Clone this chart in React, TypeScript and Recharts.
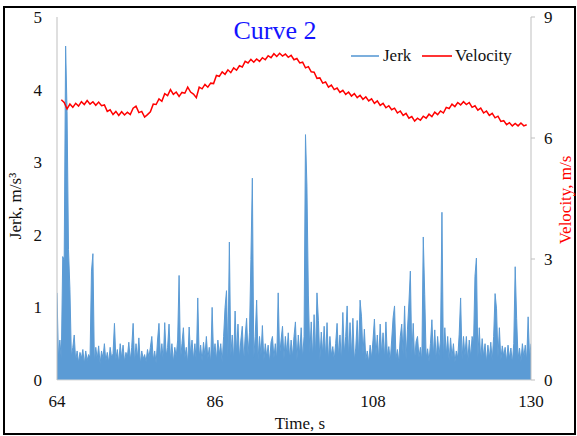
import React from 'react';
import { ComposedChart, Line, Area, XAxis, YAxis, Legend } from 'recharts';

const FONT = '"Liberation Serif", "Times New Roman", Times, serif';

// Time axis ticks (s)
const timeTicks = [64, 86, 108, 130];
const jerkTicks = [0, 1, 2, 3, 4, 5];
const velocityTicks = [0, 3, 6, 9];

// Jerk samples (m/s^3), every 0.2 s starting at 64 s
const jerkStart = 64;
const jerkStep = 0.2;
const jerkValues = [
  1.2, 0.3, 0.55, 0.28, 1.7, 1.65, 4.6, 3.7, 1.8, 1.25, 0.32, 0.45, 0.62, 0.26, 0.4, 0.24, 0.38, 0.3, 0.42, 0.22,
  0.4, 0.27, 0.35, 0.31, 1.5, 1.74, 0.25, 0.45, 0.29, 0.47, 0.22, 0.4, 0.3, 0.5, 0.26, 0.38, 0.24, 0.45, 0.31, 0.36,
  0.78, 0.28, 0.42, 0.23, 0.5, 0.3, 0.48, 0.25, 0.38, 0.32, 0.52, 0.27, 0.45, 0.78, 0.24, 0.5, 0.3, 0.58, 0.22, 0.4,
  0.29, 0.35, 0.25, 0.42, 0.31, 0.45, 0.6, 0.27, 0.4, 0.23, 0.55, 0.78, 0.3, 0.5, 0.26, 0.79, 0.33, 0.45, 0.77, 0.28,
  0.5, 0.24, 0.45, 0.32, 0.55, 1.44, 0.27, 0.5, 0.72, 0.3, 0.45, 0.22, 0.73, 0.34, 0.55, 0.28, 0.5, 0.25, 1.13, 0.31,
  0.48, 0.26, 0.52, 0.33, 0.6, 0.29, 0.45, 0.23, 1.0, 0.32, 0.5, 0.27, 0.55, 0.35, 0.5, 0.24, 0.6, 1.0, 1.23, 0.3,
  1.9, 0.33, 0.62, 0.27, 0.95, 0.36, 0.77, 0.3, 0.55, 0.74, 0.25, 0.6, 0.85, 0.34, 0.65, 1.66, 2.78, 0.31, 0.6, 1.1,
  0.28, 0.6, 0.34, 0.75, 0.26, 0.5, 0.32, 0.48, 0.24, 0.52, 0.6, 0.3, 0.5, 0.27, 1.2, 0.33, 0.55, 0.74, 0.29, 0.6,
  0.35, 0.65, 0.28, 0.55, 0.32, 0.6, 0.8, 0.26, 0.62, 0.34, 0.72, 0.3, 0.6, 3.38, 2.67, 1.17, 0.36, 0.8, 0.29, 0.9,
  0.33, 1.2, 0.82, 0.27, 0.66, 0.35, 0.74, 0.3, 0.79, 0.26, 0.6, 0.34, 0.46, 0.28, 0.5, 0.78, 0.32, 0.62, 0.25, 0.93,
  0.36, 0.6, 1.02, 0.3, 0.79, 0.33, 0.85, 0.27, 0.44, 0.82, 0.31, 1.1, 0.87, 0.35, 0.7, 0.28, 0.4, 0.24, 0.48, 0.3,
  0.55, 0.84, 0.33, 0.62, 0.27, 0.77, 0.35, 0.65, 0.29, 0.8, 0.32, 0.46, 0.26, 0.55, 0.86, 1.02, 0.3, 0.42, 0.24, 0.6,
  0.77, 0.34, 1.02, 0.28, 0.7, 1.06, 1.5, 0.33, 0.78, 0.27, 0.53, 0.6, 0.31, 0.45, 0.26, 1.97, 1.18, 0.3, 0.43, 0.25,
  0.5, 0.83, 0.32, 0.69, 0.27, 0.6, 0.33, 0.55, 2.31, 0.29, 0.72, 0.34, 0.6, 0.26, 0.58, 0.31, 0.5, 0.24, 0.4, 0.3,
  0.63, 1.13, 0.28, 0.6, 0.33, 0.6, 0.25, 0.55, 0.31, 0.6, 0.5, 1.43, 1.68, 0.3, 0.72, 0.27, 0.57, 0.32, 0.5, 0.24,
  0.48, 0.3, 0.52, 0.26, 0.6, 1.19, 0.98, 0.31, 0.72, 0.27, 0.47, 0.33, 0.45, 0.25, 0.48, 0.3, 0.44, 0.23, 0.5, 1.56,
  0.85, 0.29, 0.44, 0.25, 0.5, 0.31, 0.48, 0.26, 0.87, 0.3, 0.5,
];

// Velocity samples (m/s), every 0.4 s starting at 64.6 s
const velocityStart = 64.6;
const velocityStep = 0.4;
const velocityValues = [
  6.95, 6.88, 6.72, 6.84, 6.76, 6.86, 6.79, 6.9, 6.83, 6.93, 6.84, 6.9, 6.81, 6.89, 6.8, 6.82, 6.66, 6.7, 6.58, 6.66,
  6.56, 6.65, 6.57, 6.64, 6.58, 6.74, 6.79, 6.63, 6.66, 6.52, 6.58, 6.65, 6.84, 6.83, 6.97, 6.91, 7.1, 7.05, 7.2, 7.08,
  7.14, 7.03, 7.13, 7.11, 7.26, 7.14, 7.09, 7.0, 7.26, 7.22, 7.33, 7.26, 7.36, 7.35, 7.55, 7.53, 7.64, 7.58, 7.69, 7.62,
  7.74, 7.68, 7.79, 7.76, 7.9, 7.86, 7.95, 7.88, 7.96, 7.9, 7.99, 7.94, 8.04, 7.99, 8.09, 8.02, 8.1, 8.03, 8.08, 8.0,
  8.05, 7.94, 7.97, 7.86, 7.88, 7.74, 7.77, 7.64, 7.63, 7.48, 7.49, 7.36, 7.39, 7.26, 7.31, 7.2, 7.24, 7.13, 7.18, 7.08,
  7.14, 7.04, 7.1, 7.0, 7.06, 6.96, 7.02, 6.92, 6.97, 6.86, 6.92, 6.81, 6.86, 6.75, 6.8, 6.7, 6.74, 6.62, 6.67, 6.56,
  6.61, 6.49, 6.53, 6.42, 6.49, 6.44, 6.54, 6.49, 6.59, 6.53, 6.64, 6.58, 6.67, 6.62, 6.76, 6.73, 6.84, 6.78, 6.88, 6.82,
  6.9, 6.83, 6.88, 6.76, 6.8, 6.69, 6.74, 6.62, 6.67, 6.56, 6.61, 6.5, 6.54, 6.41, 6.43, 6.33, 6.38, 6.3, 6.36, 6.3,
  6.37, 6.3, 6.33,
];

const jerkData = jerkValues.map((v, i) => ({ t: Number((jerkStart + i * jerkStep).toFixed(2)), jerk: v }));
const velocityData = velocityValues.map((v, i) => ({
  t: Number((velocityStart + i * velocityStep).toFixed(2)),
  velocity: v,
}));

const renderLegend = (props: any) => {
  const payload = props.payload || [];
  const slots = [
    { lx1: 6, lx2: 34, tx: 38 },
    { lx1: 77, lx2: 107, tx: 110 },
  ];
  return (
    <svg width={200} height={24} style={{ display: 'block', overflow: 'visible' }}>
      {payload.map((p: any, i: number) => {
        const s = slots[i] || slots[0];
        return (
          <g key={i}>
            <line x1={s.lx1} x2={s.lx2} y1={13} y2={13} stroke={p.color} strokeWidth={1.6} />
            <text x={s.tx} y={18} fontFamily={FONT} fontSize={17} fill="#111">
              {p.value}
            </text>
          </g>
        );
      })}
    </svg>
  );
};

const tickStyle = { fontFamily: FONT, fontSize: 17, fill: '#111' };

export default function App() {
  return (
    <div style={{ position: 'absolute', left: 0, top: 0, width: 577, height: 436, background: '#fff' }}>
      <ComposedChart width={577} height={436} margin={{ top: 17, right: 0, bottom: 0, left: 0 }}>
        <XAxis
          dataKey="t"
          type="number"
          domain={[64, 130]}
          ticks={timeTicks}
          allowDataOverflow
          axisLine={{ stroke: '#D9D9D9' }}
          tickLine={false}
          tickSize={6}
          tickMargin={9}
          height={56}
          tick={tickStyle}
        />
        <YAxis
          yAxisId="left"
          domain={[0, 5]}
          ticks={jerkTicks}
          width={57}
          axisLine={{ stroke: '#BFBFBF' }}
          tickLine={false}
          tickSize={6}
          tickMargin={9}
          tick={tickStyle}
        />
        <YAxis
          yAxisId="right"
          orientation="right"
          domain={[0, 9]}
          ticks={velocityTicks}
          width={46}
          axisLine={{ stroke: '#BFBFBF' }}
          tickLine={{ stroke: '#BFBFBF' }}
          tickSize={4}
          tickMargin={9}
          tick={tickStyle}
        />
        <Legend
          verticalAlign="middle"
          align="center"
          layout="horizontal"
          content={renderLegend}
          wrapperStyle={{ position: 'absolute', left: 345, top: 43, width: 200, height: 24 }}
        />
        <Area
          yAxisId="left"
          type="linear"
          data={jerkData}
          dataKey="jerk"
          name="Jerk"
          stroke="#5B9BD5"
          strokeWidth={1}
          fill="#5B9BD5"
          fillOpacity={1}
          dot={false}
          activeDot={false}
          isAnimationActive={false}
        />
        <Line
          yAxisId="right"
          data={velocityData}
          dataKey="velocity"
          name="Velocity"
          stroke="#FF0000"
          strokeWidth={1.5}
          dot={false}
          isAnimationActive={false}
        />
      </ComposedChart>
      <svg
        width={577}
        height={436}
        style={{ position: 'absolute', left: 0, top: 0, pointerEvents: 'none' }}
      >
        <rect x={4} y={7} width={571} height={427} fill="none" stroke="#000" strokeWidth={2} />
        <text x={275} y={39} textAnchor="middle" fontFamily={FONT} fontSize={26} fill="#1414FF">
          Curve 2
        </text>
        <text
          x={21}
          y={206}
          textAnchor="middle"
          transform="rotate(-90 21 206)"
          fontFamily={FONT}
          fontSize={17}
          fill="#111"
        >
          Jerk, m/s³
        </text>
        <text
          x={571}
          y={200}
          textAnchor="middle"
          transform="rotate(-90 571 200)"
          fontFamily={FONT}
          fontSize={17}
          fill="#FF0000"
        >
          Velocity, m/s
        </text>
        <text x={300} y={429} textAnchor="middle" fontFamily={FONT} fontSize={17} fill="#111">
          Time, s
        </text>
      </svg>
    </div>
  );
}
